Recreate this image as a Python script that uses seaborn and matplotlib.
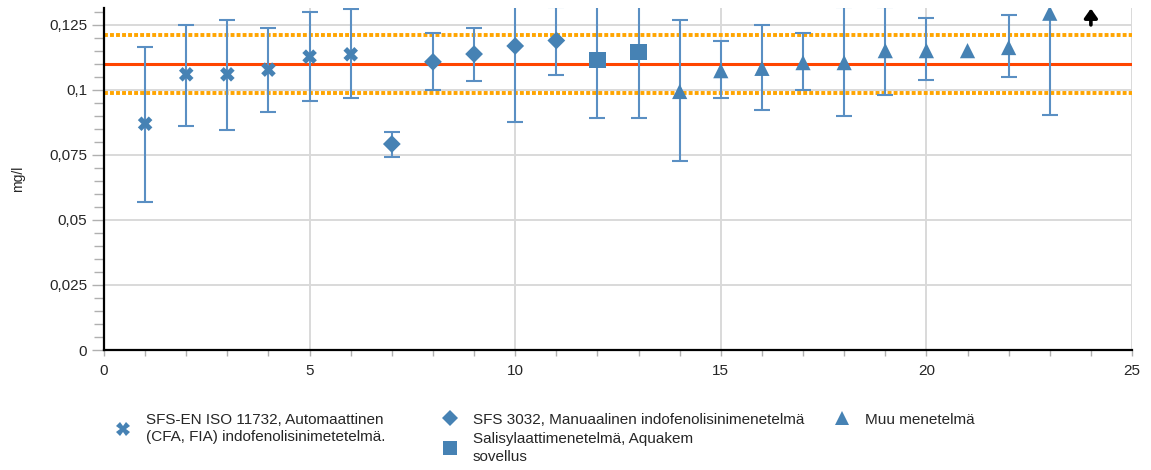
import numpy as np
import pandas as pd
import matplotlib
matplotlib.use("Agg")
import matplotlib.pyplot as plt
from matplotlib.lines import Line2D
from matplotlib.ticker import MultipleLocator
import seaborn as sns

# Laboratory results (mg/l) with their reported uncertainty ranges
lab = list(range(1, 24))
result = [0.087, 0.106, 0.106, 0.1078, 0.1128, 0.1137,
          0.0792, 0.1108, 0.1138, 0.1169, 0.119,
          0.1115, 0.1146,
          0.0994, 0.1074, 0.1083, 0.1105, 0.1105, 0.1151, 0.1151, 0.1151, 0.1163, 0.1295]
lower = [0.057, 0.0863, 0.0847, 0.0917, 0.0958, 0.097,
         0.0741, 0.100, 0.1036, 0.0876, 0.1059,
         0.0893, 0.0893,
         0.0728, 0.097, 0.0923, 0.100, 0.0899, 0.0982, 0.104, np.nan, 0.1051, 0.0905]
upper = [0.1165, 0.1251, 0.1269, 0.1238, 0.1299, 0.131,
         0.084, 0.1217, 0.124, 0.146, 0.132,
         0.134, 0.140,
         0.1269, 0.1187, 0.1251, 0.1217, 0.132, 0.132, 0.1276, np.nan, 0.1287, 0.168]

methods = [
    "SFS-EN ISO 11732, Automaattinen\n(CFA, FIA) indofenolisinimetetelmä.",
    "SFS 3032, Manuaalinen indofenolisinimenetelmä",
    "Salisylaattimenetelmä, Aquakem\nsovellus",
    "Muu menetelmä",
]
method_of_lab = [0] * 6 + [1] * 5 + [2] * 2 + [3] * 10

# Result above the displayed range
off_scale_lab = [24]

assigned_value = 0.11
tolerance = 0.011

y_ticks = [0, 0.025, 0.05, 0.075, 0.1, 0.125]
y_tick_labels = ["0", "0,025", "0,05", "0,075", "0,1", "0,125"]
x_ticks = [0, 5, 10, 15, 20, 25]

BLUE = "#4682b4"
ERR = "#5a8fc3"
marker_for = ["X", "D", "s", "^"]
size_for = [110, 82, 135, 120]
legend_ms = [9.5, 8.0, 9.5, 9.6]

df = pd.DataFrame({
    "lab": lab,
    "result": result,
    "lower": lower,
    "upper": upper,
    "method": [methods[m] for m in method_of_lab],
})

sns.set_theme(style="white")
plt.rcParams["font.family"] = ["Liberation Sans", "DejaVu Sans"]

fig = plt.figure(figsize=(11.51, 4.70), dpi=100)
ax = fig.add_axes([104 / 1151, 1 - 350 / 470, (1132 - 104) / 1151, (350 - 8) / 470])

# Reference value and tolerance limits
ax.axhline(assigned_value, color="#ff4500", lw=2.2, zorder=2)
for lim in (assigned_value - tolerance, assigned_value + tolerance):
    ax.axhline(lim, color="#ffa500", lw=2.8, dashes=(1.0, 0.55), zorder=2)

# Uncertainty bars
err_lo = df["result"] - df["lower"]
err_hi = df["upper"] - df["result"]
ax.errorbar(df["lab"], df["result"], yerr=[err_lo, err_hi], fmt="none",
            ecolor=ERR, elinewidth=1.5, capsize=6, capthick=1.5, zorder=3)

# Results, one marker style per method
for i, m in enumerate(methods):
    sub = df[df["method"] == m]
    sns.scatterplot(data=sub, x="lab", y="result", marker=marker_for[i],
                    s=size_for[i], color=BLUE, edgecolor="none", linewidth=0,
                    ax=ax, zorder=4, legend=False)

# Off-scale indicator
for xo in off_scale_lab:
    ax.annotate("", xy=(xo, 0.1313), xytext=(xo, 0.1250),
                arrowprops=dict(arrowstyle="-|>,head_width=0.32,head_length=0.45",
                                color="black", lw=2.6, mutation_scale=12,
                                shrinkA=0, shrinkB=0),
                zorder=5, annotation_clip=False)

ax.set_xlim(0, 25)
ax.set_ylim(0, 0.1315)
ax.set_xticks(x_ticks)
ax.set_xticklabels([str(t) for t in x_ticks])
ax.xaxis.set_minor_locator(MultipleLocator(1))
ax.set_yticks(y_ticks)
ax.set_yticklabels(y_tick_labels)
ax.yaxis.set_minor_locator(MultipleLocator(0.005))

ax.grid(True, which="major", color="#d9d9d9", lw=1.4, zorder=0)
ax.set_axisbelow(True)
for s in ("top", "right"):
    ax.spines[s].set_visible(False)
for s in ("left", "bottom"):
    ax.spines[s].set_color("black")
    ax.spines[s].set_linewidth(1.6)

ax.tick_params(axis="y", which="major", length=9, width=1, color="#b0b0b0",
               labelsize=11, pad=3, left=True, direction="out")
ax.tick_params(axis="y", which="minor", length=7.5, width=1, color="#b0b0b0",
               left=True, direction="out")
ax.tick_params(axis="x", which="both", length=4, width=1, color="#b0b0b0",
               labelsize=11, pad=6, bottom=True, direction="out")
ax.set_xlabel("")
ax.set_ylabel("mg/l", fontsize=10)
ax.yaxis.set_label_coords(-0.077, 0.5)

# Legend laid out in three columns below the plot
def handle(i):
    return Line2D([], [], ls="none", marker=marker_for[i], color=BLUE,
                  markeredgewidth=0, markersize=legend_ms[i])

leg_kw = dict(frameon=False, fontsize=11, loc="upper left", borderpad=0,
              handlelength=1.5, handletextpad=0.75, labelspacing=0.35)
W, H = 1151, 470
top = 1 - 405 / H
legends = [
    fig.legend([handle(0)], [methods[0]], bbox_to_anchor=(104 / W, top), **leg_kw),
    fig.legend([handle(1), handle(2)], [methods[1], methods[2]],
               bbox_to_anchor=(431 / W, top), **leg_kw),
    fig.legend([handle(3)], [methods[3]], bbox_to_anchor=(823 / W, top), **leg_kw),
]
for leg in legends:
    for t in leg.get_texts():
        t.set_linespacing(1.32)

fig.savefig("out.png", dpi=100)
